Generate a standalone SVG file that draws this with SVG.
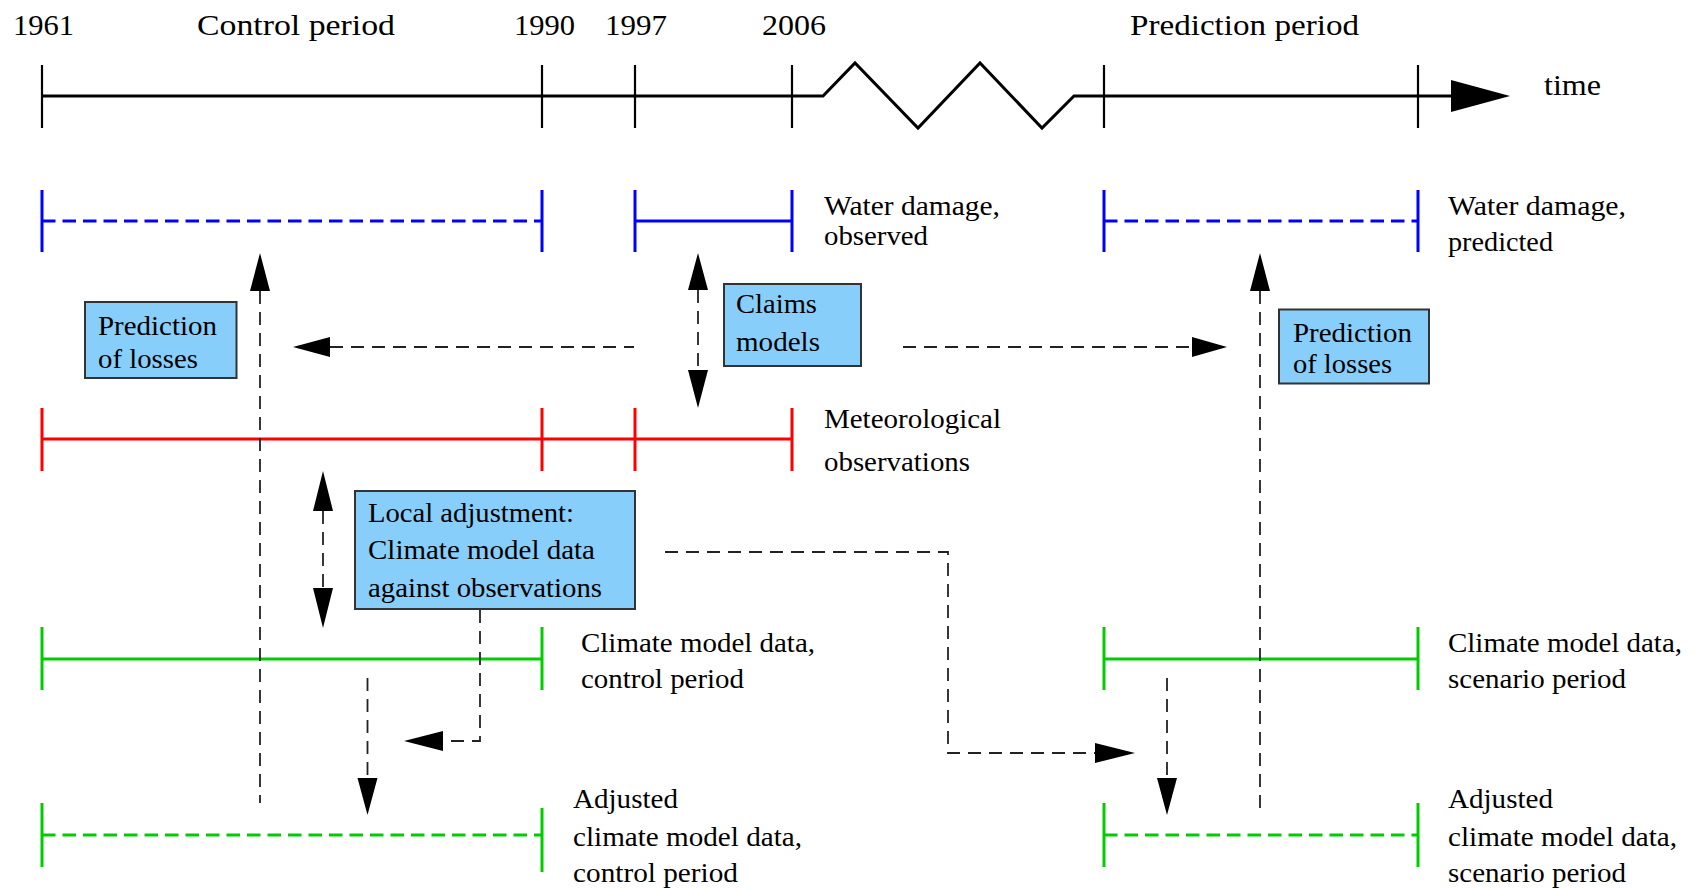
<svg xmlns="http://www.w3.org/2000/svg" width="1699" height="889" viewBox="0 0 1699 889">
<style>
text{font-family:"Liberation Serif","Times New Roman",serif;fill:#000}
.top{font-size:30px}
.lbl{font-size:28px}
.ax{stroke:#000;stroke-width:3;fill:none}
.tk{stroke:#000;stroke-width:2.2}
.blue{stroke:#0000ff;stroke-width:3;fill:none}
.red{stroke:#ff0000;stroke-width:3;fill:none}
.green{stroke:#00cc00;stroke-width:3;fill:none}
.dash{stroke-dasharray:13.5 7}
.con{stroke:#222;stroke-width:1.8;fill:none;stroke-dasharray:13 8}
.ah{fill:#000}
.box{fill:#87cefa;stroke:#333;stroke-width:2}
</style>
<rect width="1699" height="889" fill="#fff"/>

<g id="timeline">
<path class="ax" d="M42,96 H823 L855,63 L918,128 L980,63 L1042,128 L1074,96 H1455"/>
<path class="tk" d="M42,65 V128 M542,65 V128 M635,65 V128 M792,65 V128 M1104,65 V128 M1418,65 V128"/>
<polygon class="ah" points="1510,96 1451,80 1451,112"/>
<text class="top" x="13" y="35" textLength="61" lengthAdjust="spacingAndGlyphs">1961</text>
<text class="top" x="197" y="35" textLength="198" lengthAdjust="spacingAndGlyphs">Control period</text>
<text class="top" x="514" y="35" textLength="61" lengthAdjust="spacingAndGlyphs">1990</text>
<text class="top" x="605" y="35" textLength="62" lengthAdjust="spacingAndGlyphs">1997</text>
<text class="top" x="762" y="35" textLength="64" lengthAdjust="spacingAndGlyphs">2006</text>
<text class="top" x="1130" y="35" textLength="229" lengthAdjust="spacingAndGlyphs">Prediction period</text>
<text class="top" x="1544" y="95" textLength="57" lengthAdjust="spacingAndGlyphs">time</text>
</g>

<g id="water-control">
<path class="blue dash" d="M42,221 H542"/>
<path class="blue" d="M42,190 V252 M542,190 V252"/>
</g>
<g id="water-observed">
<path class="blue" d="M635,221 H792 M635,190 V252 M792,190 V252"/>
<text class="lbl" x="824" y="215" textLength="176" lengthAdjust="spacingAndGlyphs">Water damage,</text>
<text class="lbl" x="824" y="245" textLength="104" lengthAdjust="spacingAndGlyphs">observed</text>
</g>
<g id="water-predicted">
<path class="blue dash" d="M1104,221 H1418"/>
<path class="blue" d="M1104,190 V252 M1418,190 V252"/>
<text class="lbl" x="1448" y="215" textLength="178" lengthAdjust="spacingAndGlyphs">Water damage,</text>
<text class="lbl" x="1448" y="251" textLength="105" lengthAdjust="spacingAndGlyphs">predicted</text>
</g>

<g id="meteo">
<path class="red" d="M42,439 H792 M42,408 V471 M542,408 V471 M635,408 V471 M792,408 V471"/>
<text class="lbl" x="824" y="428" textLength="177" lengthAdjust="spacingAndGlyphs">Meteorological</text>
<text class="lbl" x="824" y="471" textLength="146" lengthAdjust="spacingAndGlyphs">observations</text>
</g>

<g id="climate-control">
<path class="green" d="M42,659 H542 M42,627 V690 M542,627 V690"/>
<text class="lbl" x="581" y="652" textLength="234" lengthAdjust="spacingAndGlyphs">Climate model data,</text>
<text class="lbl" x="581" y="688" textLength="163" lengthAdjust="spacingAndGlyphs">control period</text>
</g>
<g id="climate-scenario">
<path class="green" d="M1104,659 H1418 M1104,627 V690 M1418,627 V690"/>
<text class="lbl" x="1448" y="652" textLength="234" lengthAdjust="spacingAndGlyphs">Climate model data,</text>
<text class="lbl" x="1448" y="688" textLength="178" lengthAdjust="spacingAndGlyphs">scenario period</text>
</g>

<g id="adjusted-control">
<path class="green dash" d="M42,835 H542"/>
<path class="green" d="M42,803 V867 M542,808 V872"/>
<text class="lbl" x="573" y="808" textLength="105" lengthAdjust="spacingAndGlyphs">Adjusted</text>
<text class="lbl" x="573" y="846" textLength="229" lengthAdjust="spacingAndGlyphs">climate model data,</text>
<text class="lbl" x="573" y="882" textLength="165" lengthAdjust="spacingAndGlyphs">control period</text>
</g>
<g id="adjusted-scenario">
<path class="green dash" d="M1104,835 H1418"/>
<path class="green" d="M1104,803 V867 M1418,803 V867"/>
<text class="lbl" x="1448" y="808" textLength="105" lengthAdjust="spacingAndGlyphs">Adjusted</text>
<text class="lbl" x="1448" y="846" textLength="229" lengthAdjust="spacingAndGlyphs">climate model data,</text>
<text class="lbl" x="1448" y="882" textLength="178" lengthAdjust="spacingAndGlyphs">scenario period</text>
</g>

<g id="pred-losses-left">
<rect class="box" x="85" y="302" width="151.5" height="76"/>
<text class="lbl" x="98" y="335" textLength="119" lengthAdjust="spacingAndGlyphs">Prediction</text>
<text class="lbl" x="98" y="368" textLength="100" lengthAdjust="spacingAndGlyphs">of losses</text>
</g>
<g id="claims-models">
<rect class="box" x="724" y="284" width="137" height="82"/>
<text class="lbl" x="736" y="313" textLength="81" lengthAdjust="spacingAndGlyphs">Claims</text>
<text class="lbl" x="736" y="351" textLength="84" lengthAdjust="spacingAndGlyphs">models</text>
</g>
<g id="pred-losses-right">
<rect class="box" x="1279" y="309.5" width="150" height="74"/>
<text class="lbl" x="1293" y="342" textLength="119" lengthAdjust="spacingAndGlyphs">Prediction</text>
<text class="lbl" x="1293" y="373" textLength="99" lengthAdjust="spacingAndGlyphs">of losses</text>
</g>
<g id="local-adjustment">
<rect class="box" x="355" y="491" width="280" height="118"/>
<text class="lbl" x="368" y="522" textLength="206" lengthAdjust="spacingAndGlyphs">Local adjustment:</text>
<text class="lbl" x="368" y="559" textLength="227" lengthAdjust="spacingAndGlyphs">Climate model data</text>
<text class="lbl" x="368" y="597" textLength="234" lengthAdjust="spacingAndGlyphs">against observations</text>
</g>

<g id="connectors">
<path class="con" d="M260,291 V803"/>
<polygon class="ah" points="260,253 250,291 270,291"/>
<path class="con" d="M698,290 V370"/>
<polygon class="ah" points="698,253 688,290 708,290"/>
<polygon class="ah" points="698,408 688,370 708,370"/>
<path class="con" d="M330,347 H634"/>
<polygon class="ah" points="293,347 330,337 330,357"/>
<path class="con" d="M903,347 H1192"/>
<polygon class="ah" points="1227,347 1192,337 1192,357"/>
<path class="con" d="M1260,291 V809"/>
<polygon class="ah" points="1260,253 1250,291 1270,291"/>
<path class="con" d="M323,511 V588"/>
<polygon class="ah" points="323,471 313,511 333,511"/>
<polygon class="ah" points="323,628 313,588 333,588"/>
<path class="con" d="M367.5,678 V778"/>
<polygon class="ah" points="367.5,815 357.5,778 377.5,778"/>
<path class="con" d="M480,610 V741 H443"/>
<polygon class="ah" points="404,741 443,731 443,751"/>
<path class="con" d="M665,552 H948 V753 H1095"/>
<polygon class="ah" points="1135,753 1095,743 1095,763"/>
<path class="con" d="M1167,678 V778"/>
<polygon class="ah" points="1167,815 1157,778 1177,778"/>
</g>
</svg>
